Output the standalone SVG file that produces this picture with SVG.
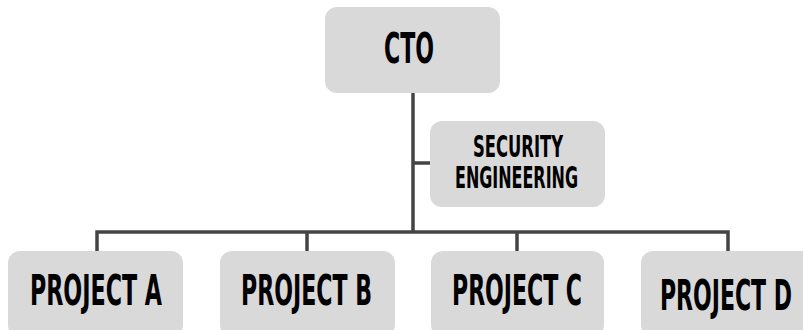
<svg xmlns="http://www.w3.org/2000/svg" width="803" height="330" viewBox="0 0 803 330">
<style>
.box{fill:#d9d9d9;}
.lbl{font-family:"Liberation Sans Narrow","DejaVu Sans Condensed","Liberation Sans",sans-serif;font-weight:bold;fill:#000;text-anchor:middle;}
.big{font-size:42px;}
.sm{font-size:30px;}
.conn{fill:none;stroke:#444;stroke-width:3.5;}
</style>
<rect width="803" height="330" fill="#fff"/>
<g id="connectors">
<path class="conn" d="M413 93 V232"/>
<path class="conn" d="M413 163 H430"/>
<path class="conn" d="M97 251 V232 H728 V251"/>
<path class="conn" d="M307 232 V251"/>
<path class="conn" d="M517 232 V251"/>
</g>
<g id="cto">
<rect class="box" x="325" y="7" width="175" height="86" rx="12"/>
<text class="lbl big" x="409" y="63" textLength="50" lengthAdjust="spacingAndGlyphs">CTO</text>
</g>
<g id="security">
<rect class="box" x="430" y="121" width="175" height="86" rx="12"/>
<text class="lbl sm" x="518" y="157" textLength="90" lengthAdjust="spacingAndGlyphs">SECURITY</text>
<text class="lbl sm" x="516.5" y="188" textLength="123" lengthAdjust="spacingAndGlyphs">ENGINEERING</text>
</g>
<g id="projectA">
<rect class="box" x="8" y="251" width="175" height="86" rx="12"/>
<text class="lbl big" x="96" y="305" textLength="132" lengthAdjust="spacingAndGlyphs">PROJECT A</text>
</g>
<g id="projectB">
<rect class="box" x="220" y="251" width="175" height="86" rx="12"/>
<text class="lbl big" x="306.5" y="305" textLength="131" lengthAdjust="spacingAndGlyphs">PROJECT B</text>
</g>
<g id="projectC">
<rect class="box" x="431" y="251" width="173" height="86" rx="12"/>
<text class="lbl big" x="517" y="305" textLength="130" lengthAdjust="spacingAndGlyphs">PROJECT C</text>
</g>
<g id="projectD">
<rect class="box" x="641" y="251" width="175" height="86" rx="12"/>
<text class="lbl big" x="726" y="310" textLength="132" lengthAdjust="spacingAndGlyphs">PROJECT D</text>
</g>
</svg>
